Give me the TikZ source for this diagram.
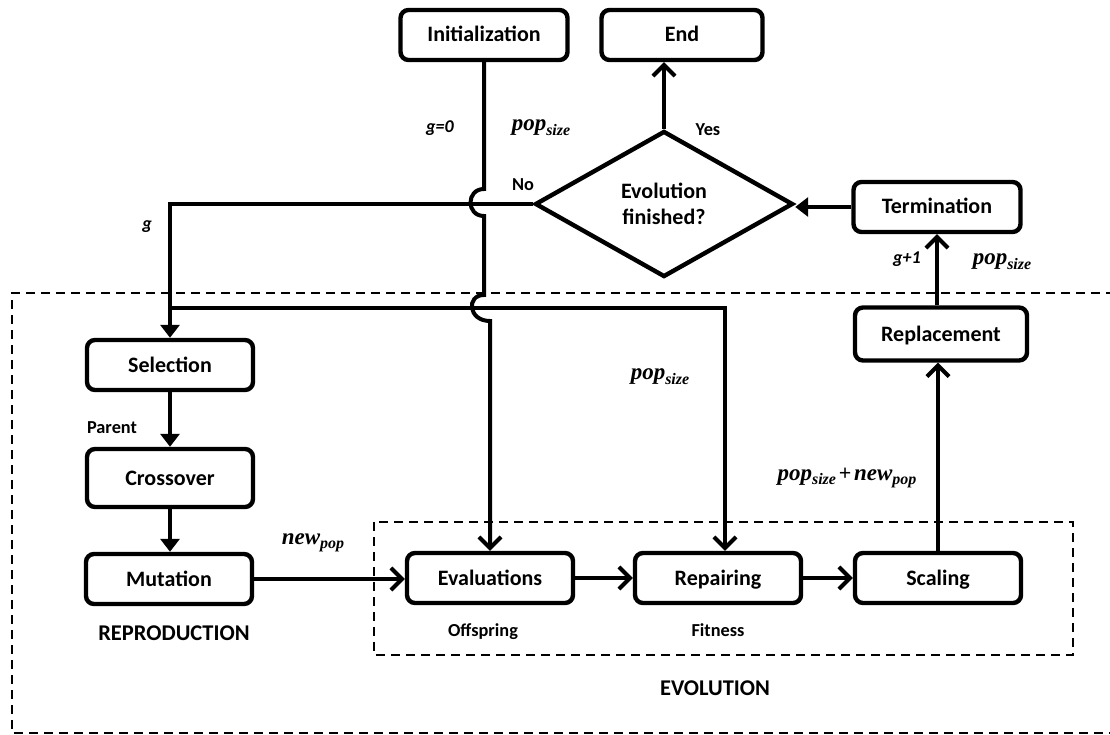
\documentclass[tikz,border=0pt]{standalone}
\usepackage{fontspec}
\setmainfont{Carlito}
\newfontfamily\mfont{Liberation Serif}
\usetikzlibrary{arrows.meta,shapes.geometric}
\newcommand\msub[2]{{\mfont\bfseries\itshape\fontsize{23}{26}\selectfont #1\raisebox{-4.5pt}{\fontsize{16}{16}\selectfont #2}}}
\begin{document}
\begin{tikzpicture}[x=1pt,y=-1pt,
  box/.style={draw,line width=4.4pt,rounded corners=8pt,minimum width=166pt,minimum height=50pt,font=\bfseries\fontsize{22}{26}\selectfont,inner sep=0pt,text height=16pt,text depth=2pt},
  conn/.style={line width=4pt},
  oarr/.style={conn,-{Straight Barb[length=11pt,width=22pt]}},
  farr/.style={conn,-{Triangle[length=13pt,width=19pt]}},
  lab/.style={font=\bfseries\fontsize{18.3}{22}\selectfont,inner sep=0pt},
  big/.style={font=\bfseries\fontsize{22.5}{26}\selectfont,inner sep=0pt},
  ilab/.style={font=\bfseries\itshape\fontsize{18}{22}\selectfont,inner sep=0pt},
  mlab/.style={inner sep=0pt},
  dsh/.style={line width=1.6pt,dash pattern=on 9pt off 6pt}]
\useasboundingbox (0,0) rectangle (1110,735);
% dashed frames
\draw[dsh] (1115,293) -- (12,293) -- (12,733) -- (1115,733);
\draw[dsh] (374,522) rectangle (1073,655);
% nodes
\node[box,minimum width=167pt] (init) at (484,35) {Initialization};
\node[box,minimum width=161pt] (end) at (682,35) {End};
\node[draw,diamond,line width=4.4pt,aspect=1.77,minimum width=258pt,minimum height=146pt,inner sep=0pt,align=center,font=\bfseries\fontsize{22}{26}\selectfont] (dec) at (664,204) {Evolution\\finished?};
\node[box,minimum width=167pt] (term) at (937,207) {Termination};
\node[box,minimum width=172pt,minimum height=53pt] (repl) at (941,334) {Replacement};
\node[box] (sel) at (170,365) {Selection};
\node[box,minimum height=58pt] (cross) at (170,478) {Crossover};
\node[box] (mut) at (169,579) {Mutation};
\node[box] (eval) at (490,578) {Evaluations};
\node[box] (rep) at (718,578) {Repairing};
\node[box] (scal) at (938,578) {Scaling};
% coordinates
\coordinate (j1a) at (484,189);
\coordinate (j1b) at (484,216);
\coordinate (j2a) at (484,295);
\coordinate (j2b) at (490,321);
\coordinate (b1) at (170,308);
\coordinate (b2) at (725,308);
% connectors
\draw[oarr] (dec.north) -- (dec.north |- end.south);
\draw[farr] (term.west) -- (term.west -| dec.east);
\draw[oarr] (repl.north -| term.south) -- (term.south);
\draw[oarr] (scal.north) -- (scal.north |- repl.south);
\draw[oarr] (mut.east) -- (mut.east -| eval.west);
\draw[oarr] (eval) -- (rep);
\draw[oarr] (rep) -- (scal);
\draw[farr] (sel) -- (cross);
\draw[farr] (cross) -- (cross |- mut.north);
\draw[farr] (dec.west) -- (dec.west -| sel.north) -- (sel.north);
\draw[oarr] (b1) -- (b2) -- (b2 |- rep.north);
\draw[oarr] (init.south) -- (j1a) .. controls (466,189) and (466,216) .. (j1b) -- (j2a) .. controls (466,295) and (468,321) .. (j2b) -- (eval.north);
% labels
\node[ilab] (l1) at (440,128) {g=0};
\node[mlab] (l2) at (541,128) {\msub{pop}{size}};
\node[lab] (l3) at (523,185) {No};
\node[lab] (l4) at (708,130) {Yes};
\node[ilab] (l5) at (147,227) {g};
\node[ilab] (l6) at (907,259) {g+1};
\node[mlab] (l7) at (1002,262) {\msub{pop}{size}};
\node[mlab] (l8) at (660,377) {\msub{pop}{size}};
\node[mlab] (l9) at (847,478) {\msub{pop}{size}\;{\mfont\bfseries\fontsize{22}{24}\selectfont+}\;\msub{new}{pop}};
\node[lab] (l10) at (112,428) {Parent};
\node[mlab] (l11) at (313,543) {\msub{new}{pop}};
\node[big] (l12) at (174,633) {REPRODUCTION};
\node[lab] (l13) at (483,632) {Offspring};
\node[lab] (l14) at (718,630) {Fitness};
\node[big] (l15) at (715,688) {EVOLUTION};
\end{tikzpicture}
\end{document}
